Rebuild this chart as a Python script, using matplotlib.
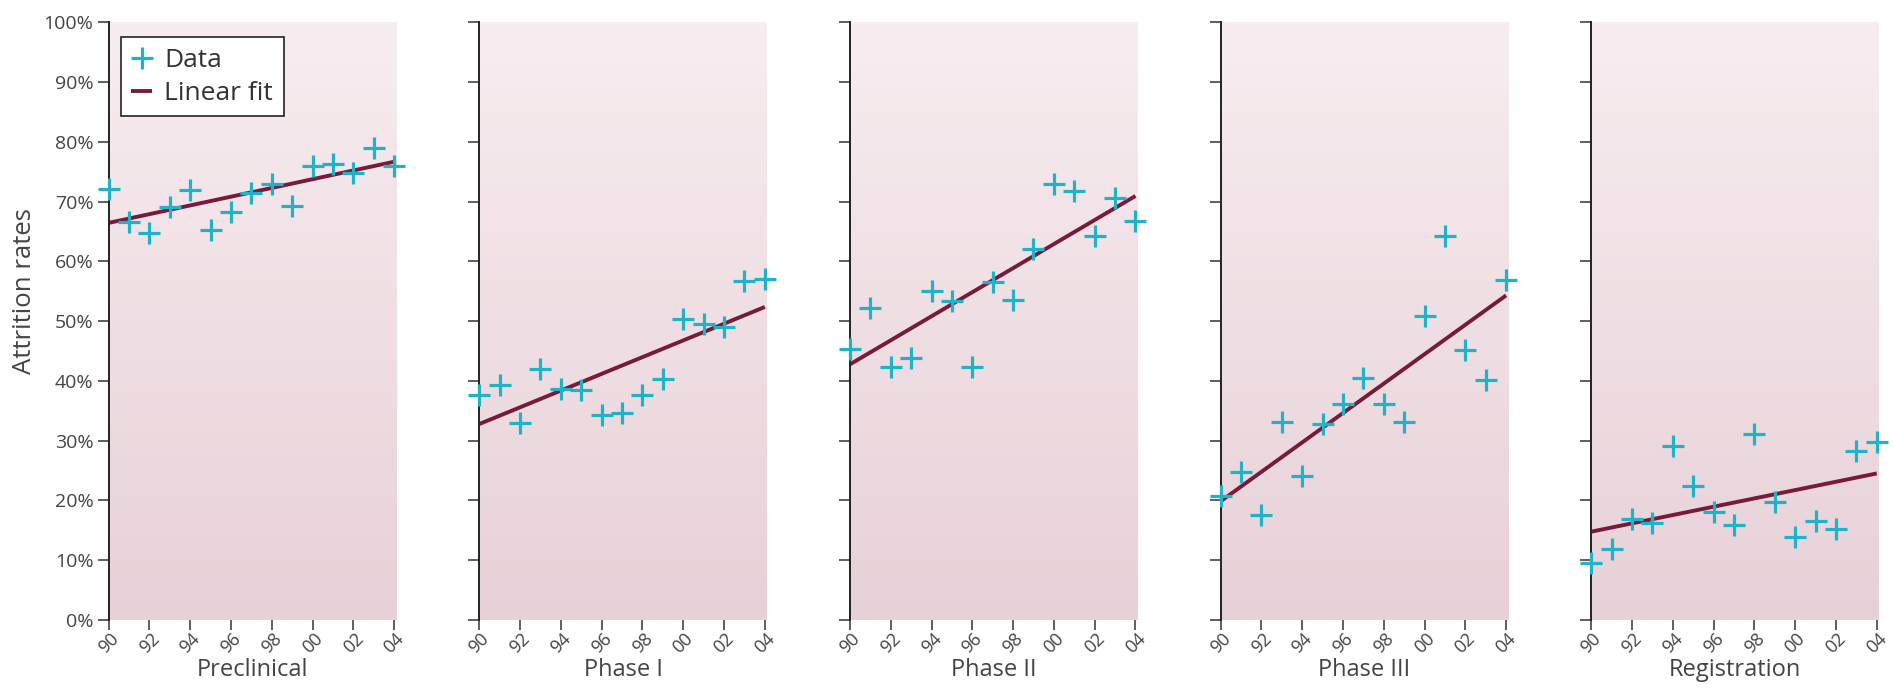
import numpy as np
import matplotlib
matplotlib.use("Agg")
import matplotlib.pyplot as plt
from matplotlib.ticker import MultipleLocator, FuncFormatter

# attrition rates by development phase, 1990-2004
years = np.arange(1990, 2005)
phases = ["Preclinical", "Phase I", "Phase II", "Phase III", "Registration"]

preclinical = [72.1, 66.6, 64.7, 69.1, 72.0, 65.3, 68.2, 71.4, 72.9, 69.3, 75.9, 76.3, 74.8, 79.0, 75.9]
phase_1 = [37.7, 39.4, 32.9, 42.0, 38.7, 38.5, 34.3, 34.7, 37.6, 40.4, 50.3, 49.6, 49.0, 56.7, 57.0]
phase_2 = [45.4, 52.2, 42.4, 43.8, 55.0, 53.3, 42.4, 56.6, 53.5, 62.1, 72.9, 71.8, 64.2, 70.6, 66.8]
phase_3 = [20.7, 24.8, 17.5, 33.2, 24.1, 32.8, 36.1, 40.5, 36.2, 33.2, 50.9, 64.2, 45.2, 40.1, 56.9]
registration = [9.5, 11.9, 16.9, 16.3, 29.2, 22.4, 18.1, 15.9, 31.1, 19.7, 13.9, 16.6, 15.2, 28.3, 29.8]

series = [preclinical, phase_1, phase_2, phase_3, registration]
xtick_years = np.arange(1990, 2005, 2)
xtick_labels = ["90", "92", "94", "96", "98", "00", "02", "04"]

data_color = "#1fb3c8"
fit_color = "#781b3b"
text_color = "#444444"

plt.rcParams["font.family"] = ["Open Sans", "DejaVu Sans"]

fig, axes = plt.subplots(1, 5, figsize=(18.93, 6.99), dpi=100, sharey=True)
fig.subplots_adjust(left=0.0574, right=0.9925, bottom=0.113, top=0.968, wspace=0.289)

# vertical pink gradient for the panel backgrounds
grad = np.linspace(0, 1, 256).reshape(-1, 1)
top_rgb = np.array([0.970, 0.930, 0.940])
bot_rgb = np.array([0.905, 0.820, 0.845])
grad_img = top_rgb + (bot_rgb - top_rgb) * grad[:, :, None]

for i, (ax, name, vals) in enumerate(zip(axes, phases, series)):
    ax.imshow(grad_img, extent=[0, 1, 0, 1], transform=ax.transAxes,
              aspect="auto", zorder=0)

    slope, icpt = np.polyfit(years, vals, 1)
    ax.plot(years, slope * years + icpt, color=fit_color, lw=2.8,
            label="Linear fit", zorder=2, solid_capstyle="butt")
    ax.plot(years, vals, linestyle="none", marker="+", markersize=16,
            markeredgewidth=2.3, color=data_color, label="Data",
            zorder=3, clip_on=False)

    ax.set_xlim(1990, 2004.1)
    ax.set_ylim(0, 100)
    ax.yaxis.set_major_locator(MultipleLocator(10))
    ax.yaxis.set_major_formatter(FuncFormatter(lambda v, p: f"{v:.0f}%"))
    ax.set_xticks(xtick_years)
    ax.set_xticklabels(xtick_labels, rotation=45, ha="center")

    for s in ["top", "right", "bottom"]:
        ax.spines[s].set_visible(False)
    ax.spines["left"].set_color("#222222")
    ax.spines["left"].set_linewidth(1.4)
    ax.tick_params(axis="y", length=8, width=1.1, color="#333333",
                   labelsize=14, labelcolor=text_color, pad=3)
    ax.tick_params(axis="x", length=7, width=1.1, color="#333333",
                   labelsize=13, labelcolor=text_color, pad=0)
    ax.set_xlabel(name, fontsize=17, color=text_color, labelpad=1)

axes[0].set_ylabel("Attrition rates", fontsize=18.5, color=text_color)
axes[0].yaxis.set_label_coords(-0.25, 0.55)

handles, labels = axes[0].get_legend_handles_labels()
leg = axes[0].legend(handles[::-1], labels[::-1], loc="upper left",
                     bbox_to_anchor=(0.042, 0.975), borderaxespad=0,
                     fontsize=19, frameon=True, fancybox=False,
                     edgecolor="#222222", handlelength=0.8,
                     handletextpad=0.45, borderpad=0.4, labelspacing=0.3,
                     framealpha=1)
leg.get_frame().set_linewidth(1.2)
for t in leg.get_texts():
    t.set_color("#333333")

fig.savefig("out.png", dpi=100, facecolor="white")
